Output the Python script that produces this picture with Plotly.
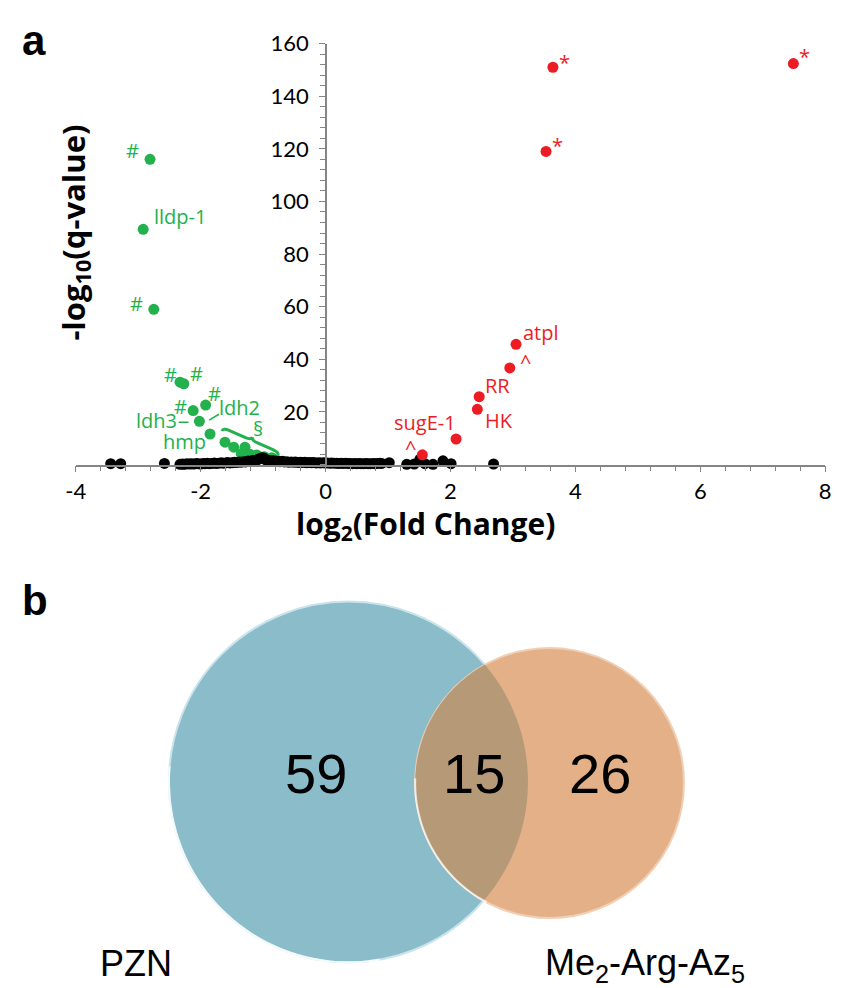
import numpy as np
import plotly.graph_objects as go

W, H = 842, 988

# ---------------- data: panel a (volcano plot) ----------------
red_x = [3.64, 7.49, 3.53, 3.05, 2.95, 2.46, 2.43, 2.09, 1.55]
red_y = [151, 152.4, 119, 45.7, 36.7, 25.8, 21.0, 9.7, 3.7]
red_text = ["*", "*", "*", "atpl", "^", "RR", "HK", "sugE-1", "^"]
red_text_pt = [0, 1, 2, 3, 4, 5, 6, 8, 8]

green_x = [-2.81, -2.92, -2.75, -2.33, -2.27, -1.92, -2.12, -2.02, -1.85,
           -1.61, -1.47, -1.29, -1.35, -1.21, -1.10, -0.98, -0.86]
green_y = [116, 89.4, 59, 31.3, 30.7, 22.6, 20.5, 16.4, 11.6,
           8.5, 6.6, 6.6, 4.1, 3.9, 3.6, 3.0, 2.6]
green_text = ["#", "lldp-1", "#", "#", "#", "#", "ldh2", "#", "ldh3", "hmp"]
green_text_pt = [0, 1, 2, 3, 4, 5, 5, 6, 7, 8]

black_x = [
    -3.44, -3.28, -2.58, -2.33, -2.29, -2.26, -2.22, -2.18, -2.15, -2.11,
    -2.07, -2.04, -2.00, -1.96, -1.93, -1.89, -1.86, -1.82, -1.78, -1.75,
    -1.71, -1.67, -1.64, -1.60, -1.57, -1.53, -1.49, -1.46, -1.42, -1.38,
    -1.35, -1.31, -1.28, -1.24, -1.20, -1.17, -1.13, -1.09, -1.06, -1.02,
    -0.99, -0.97, -0.95, -0.91, -0.88, -0.84, -0.80, -0.77, -0.73, -0.69,
    -0.66, -0.62, -0.59, -0.55, -0.51, -0.48, -0.44, -0.40, -0.37, -0.33,
    -0.30, -0.26, -0.22, -0.19, -0.15, -0.11, -0.08, -0.04, -0.01, 0.03,
    0.07, 0.10, 0.14, 0.18, 0.21, 0.25, 0.28, 0.32, 0.36, 0.39,
    0.43, 0.47, 0.50, 0.54, 0.57, 0.61, 0.65, 0.68, 0.72, 0.76,
    0.79, 0.83, 0.87, 0.90, 1.02, 1.30, 1.42, 1.51, 1.59, 1.72,
    1.88, 2.01, 2.69,
]
black_y = [
    0.3, 0.3, 0.4, 0.1, 0.2, 0.1, 0.3, 0.2, 0.3, 0.2,
    0.4, 0.3, 0.2, 0.4, 0.3, 0.5, 0.3, 0.4, 0.6, 0.4,
    0.5, 0.7, 0.5, 0.6, 0.8, 0.6, 0.7, 0.9, 0.8, 1.0,
    0.9, 1.1, 1.0, 1.3, 1.2, 1.5, 1.4, 1.8, 2.2, 2.6,
    2.5, 2.1, 1.7, 1.5, 1.3, 1.4, 1.2, 1.3, 1.1, 1.2,
    1.0, 1.1, 0.9, 1.0, 0.9, 1.0, 0.8, 0.9, 0.8, 0.9,
    0.7, 0.8, 0.7, 0.8, 0.6, 0.7, 0.6, 0.7, 0.6, 0.6,
    0.5, 0.6, 0.5, 0.5, 0.4, 0.5, 0.4, 0.5, 0.4, 0.4,
    0.3, 0.4, 0.3, 0.4, 0.3, 0.3, 0.4, 0.3, 0.3, 0.4,
    0.3, 0.4, 0.5, 0.4, 0.7, 0.1, 0.2, 2.0, 0.3, 0.1,
    1.4, 0.3, 0.2,
]

x_range = [-4, 8]
x_tickvals = [-4, -2, 0, 2, 4, 6, 8]
x_ticktext = ["-4", "-2", "0", "2", "4", "6", "8"]
y_range = [0, 160]
y_tickvals = [20, 40, 60, 80, 100, 120, 140, 160]

# ---------------- data: panel b (Venn) ----------------
venn_sets = ["PZN", "Me<sub>2</sub>-Arg-Az<sub>5</sub>"]
venn_counts = [59, 15, 26]  # PZN only, both, Me2-Arg-Az5 only

# ---------------- styles ----------------
RED = "#ed1c24"
GREEN = "#22b14c"
GRAY = "#858585"
BLUE = "#8bbcc9"
ORANGE = "#e3b088"
LENS = "#b69a78"
LBL_FONT = "Open Sans"
LBL_SIZE = 20

red_shift = [(12, 5), (11, 7), (11, 6), (25, 12), (16, 6), (18, 11), (22, -11), (3, 32), (-12, 7)]
green_shift = [(-18, 9), (37, 13), (-17, 6), (-10, 8), (13, 10), (9, 12), (34, -2), (-13, 4), (-43, 1), (-26, -7)]

# plot area in pixels
PX_L, PX_R, PX_T, PX_B = 67, 831, 30, 457


def X(px):
    return px / W


def Y(py):
    return 1 - py / H


def dx(px):  # pixel -> data x (for decorations)
    return x_range[0] + (px - PX_L) / (PX_R - PX_L) * (x_range[1] - x_range[0])


def dy(py):
    return y_range[0] + (PX_B - py) / (PX_B - PX_T) * (y_range[1] - y_range[0])


fig = go.Figure()
fig.add_trace(go.Scatter(x=green_x, y=green_y, mode="markers",
                         marker=dict(color=GREEN, size=11), cliponaxis=False, hoverinfo="skip"))
fig.add_trace(go.Scatter(x=black_x, y=black_y, mode="markers",
                         marker=dict(color="black", size=11), cliponaxis=False, hoverinfo="skip"))
fig.add_trace(go.Scatter(x=red_x, y=red_y, mode="markers",
                         marker=dict(color=RED, size=11), cliponaxis=False, hoverinfo="skip"))

ann = []
for t, i, (sx, sy) in zip(red_text, red_text_pt, red_shift):
    ann.append(dict(x=red_x[i], y=red_y[i], xref="x", yref="y", text=t, showarrow=False,
                    xshift=sx, yshift=sy, font=dict(family=LBL_FONT, size=LBL_SIZE, color=RED)))
for t, i, (sx, sy) in zip(green_text, green_text_pt, green_shift):
    ann.append(dict(x=green_x[i], y=green_y[i], xref="x", yref="y", text=t, showarrow=False,
                    xshift=sx, yshift=sy, font=dict(family=LBL_FONT, size=LBL_SIZE, color=GREEN)))
# section sign for the bracketed group
ann.append(dict(x=dx(253), y=dy(420), xref="x", yref="y", text="§", showarrow=False,
                font=dict(family=LBL_FONT, size=LBL_SIZE, color=GREEN)))

shapes = []
# small leader lines for ldh3 / ldh2
shapes.append(dict(type="line", xref="x", yref="y", x0=dx(172), y0=dy(414), x1=dx(182), y1=dy(414),
                   line=dict(color=GREEN, width=1.5)))
shapes.append(dict(type="line", xref="x", yref="y", x0=dx(203), y0=dy(412), x1=dx(213), y1=dy(406),
                   line=dict(color=GREEN, width=1.5)))

# curly brace
A = np.array([216.0, 423.0])
B = np.array([273.0, 448.0])
d = B - A
L = np.linalg.norm(d)
u = d / L
n = np.array([u[1], -u[0]])
hh, ww = 7.0, 7.0
q = L / 2


def P(s, t):
    p = A + u * s + n * t
    return f"{dx(p[0]):.4f},{dy(p[1]):.4f}"


brace = (f"M {P(0,0)} Q {P(0,hh/2)} {P(ww,hh/2)} L {P(q-ww,hh/2)} Q {P(q,hh/2)} {P(q,hh)} "
         f"Q {P(q,hh/2)} {P(q+ww,hh/2)} L {P(L-ww,hh/2)} Q {P(L,hh/2)} {P(L,0)}")
shapes.append(dict(type="path", xref="x", yref="y", path=brace, line=dict(color=GREEN, width=3)))

# ---------------- panel b: Venn ----------------
bc, br = (345.0, 779.0), 183.0
oc, orr = (550.0, 780.0), 137.0
shapes.append(dict(type="circle", xref="paper", yref="paper",
                   x0=X(bc[0] - br), x1=X(bc[0] + br), y0=Y(bc[1] + br), y1=Y(bc[1] - br),
                   fillcolor=BLUE, line=dict(color="#c9e4ec", width=2), layer="below"))
shapes.append(dict(type="circle", xref="paper", yref="paper",
                   x0=X(oc[0] - orr), x1=X(oc[0] + orr), y0=Y(oc[1] + orr), y1=Y(oc[1] - orr),
                   fillcolor=ORANGE, line=dict(color="#f1cfb4", width=2), layer="below"))
# lens (intersection)
dd = np.hypot(oc[0] - bc[0], oc[1] - bc[1])
a = (br ** 2 - orr ** 2 + dd ** 2) / (2 * dd)
h = np.sqrt(br ** 2 - a ** 2)
base = np.arctan2(oc[1] - bc[1], oc[0] - bc[0])
t1 = np.arctan2(h, a)
t2 = np.arctan2(h, dd - a)
ta = np.linspace(base - t1, base + t1, 80)
tb = np.linspace(base + np.pi - t2, base + np.pi + t2, 80)
pts = [(bc[0] + br * np.cos(t), bc[1] + br * np.sin(t)) for t in ta]
pts += [(oc[0] + orr * np.cos(t), oc[1] + orr * np.sin(t)) for t in tb]
lens = "M " + " L ".join(f"{X(px):.5f},{Y(py):.5f}" for px, py in pts) + " Z"
shapes.append(dict(type="path", xref="paper", yref="paper", path=lens, fillcolor=LENS,
                   line=dict(width=0), layer="below"))


def arc(c, r, t0, t1_, col, wdt):
    ts = np.linspace(np.radians(t0), np.radians(t1_), 60)
    p = "M " + " L ".join(f"{X(c[0] + r * np.cos(t)):.5f},{Y(c[1] + r * np.sin(t)):.5f}" for t in ts)
    return dict(type="path", xref="paper", yref="paper", path=p, line=dict(color=col, width=wdt), layer="below")


shapes.append(arc(bc, br, 80, 185, "rgba(255,255,255,0.8)", 2))
shapes.append(arc(oc, orr, 118, 182, "rgba(255,255,255,0.75)", 2))

venn_pos = [(312, 770), (473, 770), (601, 770)]
for cnt, (px, py) in zip(venn_counts, venn_pos):
    ann.append(dict(x=X(px), y=Y(py), xref="paper", yref="paper", text=str(cnt), showarrow=False,
                    xanchor="center", yanchor="middle",
                    font=dict(family="Liberation Sans", size=56, color="black")))
ann.append(dict(x=X(90), y=Y(963), xref="paper", yref="paper", text=venn_sets[0], showarrow=False,
                xanchor="left", yanchor="middle", font=dict(family="Liberation Sans", size=36, color="black")))
ann.append(dict(x=X(543), y=Y(965), xref="paper", yref="paper", text=venn_sets[1], showarrow=False,
                xanchor="left", yanchor="middle", font=dict(family="Liberation Sans", size=36, color="black")))

# panel letters and axis titles
ann.append(dict(x=X(10), y=Y(27), xref="paper", yref="paper", text="<b>a</b>", showarrow=False,
                xanchor="left", yanchor="middle", font=dict(family="Liberation Sans", size=42, color="black")))
ann.append(dict(x=X(10), y=Y(595), xref="paper", yref="paper", text="<b>b</b>", showarrow=False,
                xanchor="left", yanchor="middle", font=dict(family="Liberation Sans", size=42, color="black")))
ann.append(dict(x=X(424), y=Y(518), xref="paper", yref="paper",
                text="<b>log<sub>2</sub>(Fold Change)</b>", showarrow=False,
                xanchor="center", yanchor="middle", font=dict(family="Open Sans", size=30, color="black")))
ann.append(dict(x=X(66), y=Y(222), xref="paper", yref="paper",
                text="<b>-log<sub>10</sub>(q-value)</b>", showarrow=False, textangle=-90,
                xanchor="center", yanchor="middle", font=dict(family="Open Sans", size=31, color="black")))

tickfont = dict(family="Lato", size=22, color="black")
fig.update_layout(
    width=W, height=H,
    margin=dict(l=0, r=0, t=0, b=0),
    paper_bgcolor="white", plot_bgcolor="white",
    showlegend=False,
    xaxis=dict(domain=[X(PX_L), X(PX_R)], range=x_range, tickvals=x_tickvals, ticktext=x_ticktext,
               ticks="outside", ticklen=6, tickwidth=1.2, tickcolor=GRAY,
               showline=True, linecolor=GRAY, linewidth=1.5,
               showgrid=False, zeroline=False, tickfont=tickfont, ticklabelstandoff=0,
               minor=dict(tickvals=[v / 10 for v in range(-40, 81, 4)], ticks="outside", ticklen=5,
                          tickwidth=1, tickcolor=GRAY),
               anchor="y", fixedrange=True),
    yaxis=dict(domain=[Y(PX_B), Y(PX_T)], range=y_range, tickvals=y_tickvals,
               ticks="outside", ticklen=6, tickwidth=1.2, tickcolor=GRAY,
               showline=True, linecolor=GRAY, linewidth=1.5,
               showgrid=False, zeroline=False, tickfont=tickfont, ticklabelstandoff=6,
               minor=dict(dtick=4, ticks="outside", ticklen=5, tickwidth=1, tickcolor=GRAY),
               anchor="free", position=X(322), fixedrange=True),
    annotations=ann,
    shapes=shapes,
)

fig.write_html("out.html")
